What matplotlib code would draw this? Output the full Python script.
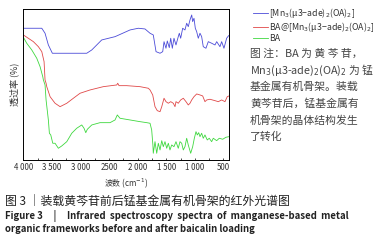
import matplotlib
matplotlib.use("Agg")
from matplotlib import pyplot as plt
from matplotlib.ticker import MultipleLocator

plt.rcParams['font.family'] = ['Noto Sans CJK SC', 'DejaVu Sans']

# wavenumber (cm-1) / transmittance (arbitrary units)
wn_mof = [4000, 3678, 3621, 3563, 3493, 3301, 2892, 2804, 2630, 2397, 2357, 2135,
          1990, 1873, 1785, 1728, 1680, 1610, 1563, 1540, 1506, 1483, 1448, 1423,
          1395, 1366, 1331, 1291, 1273, 1249, 1214, 1174, 1144, 1116, 1086, 1056,
          1039, 1016, 993, 969, 941, 911, 882, 854, 807, 766, 707, 649, 619, 562,
          532, 492, 445, 410]
t_mof = [131.7, 131.7, 126.7, 115, 106.7, 106.7, 106.7, 110, 120, 123.3, 124.3, 130,
         131.7, 131, 126.7, 125, 108.3, 106.7, 108.3, 118.3, 111.7, 119, 112.3, 121.7,
         111.7, 121.7, 115, 123.3, 126.7, 121.7, 131.7, 130, 136.7, 133.3, 140, 145,
         138.3, 141.7, 131.7, 128.3, 121.7, 126.7, 123.3, 113.3, 111.7, 118.3, 116.7, 115, 118.3, 113.3,
         118.3, 111.7, 121.7, 124.3]

wn_ba_mof = [4000, 3825, 3738, 3678, 3638, 3621, 3603, 3591, 3533, 3446, 3358, 3241,
             3126, 3009, 2834, 2602, 2367, 2350, 2327, 2193, 1960, 1815, 1785, 1738,
             1698, 1658, 1610, 1580, 1540, 1506, 1465, 1423, 1378, 1348, 1331, 1291,
             1249, 1203, 1156, 1116, 1086, 1056, 1016, 969, 911, 864, 824, 794, 737,
             649, 591, 532, 474, 434, 404]
t_ba_mof = [125, 118.3, 113.3, 108.3, 98.3, 80, 76.7, 73.3, 63.3, 56.7, 53.3, 56.7,
            61.7, 66.7, 70, 73.3, 75, 76.7, 74.3, 74.3, 73.3, 71.7, 70, 65,
            53.3, 49.3, 48.3, 53.3, 61.7, 58.3, 56.7, 58.3, 56.7, 53.3, 58.3, 56.7,
            60, 61.7, 58.3, 55, 56.7, 60, 63.3, 66, 65, 64, 58.3, 60, 60.7,
            59.3, 58.3, 60, 58.3, 63.3, 64]

wn_ba = [4000, 3941, 3853, 3766, 3708, 3661, 3650, 3621, 3603, 3563, 3545, 3521,
         3486, 3446, 3388, 3329, 3241, 3154, 3067, 2979, 2939, 2909, 2881, 2804,
         2659, 2484, 2397, 2357, 2310, 2135, 1960, 1843, 1785, 1756, 1735, 1728,
         1698, 1668, 1640, 1610, 1580, 1553, 1523, 1493, 1465, 1436, 1406, 1366,
         1331, 1291, 1261, 1231, 1203, 1174, 1144, 1116, 1074, 1039, 1010, 981,
         958, 934, 911, 882, 854, 824, 784, 749, 707, 679, 619, 574, 514, 457, 404]
t_ba = [122.7, 116.7, 110, 101.7, 93.3, 83.3, 80, 75, 60, 40, 26.7, 25,
        16.7, 16.7, 11.7, 14, 18.3, 26.7, 31.7, 35, 31.7, 27.3, 30.7, 35,
        37.3, 37.3, 40, 45, 41.7, 40, 38.3, 37.3, 36.7, 30, 15, 6.7,
        18.3, 6.7, 16.7, 10, 19.3, 13.3, 18.3, 11.7, 16.7, 10, 15, 13.3,
        18.3, 11.7, 18.3, 16.7, 10, 13.3, 21.7, 15, 6.7, 13.3, 21.7, 28.3,
        25, 27.3, 23.3, 26.7, 21.7, 25, 20, 21.7, 18.3, 21.7, 19.3, 21.7, 20.7, 22.7, 23.3]

labels = ['[Mn$_3$(μ3−ade)$_2$(OA)$_2$]', 'BA@[Mn$_3$(μ3−ade)$_2$(OA)$_2$]', 'BA']
colors = ['#4b4bd8', '#e04848', '#3fd83f']
xticks = [4000, 3500, 3000, 2500, 2000, 1500, 1000, 500]
xticklabels = ['4 000', '3 500', '3 000', '2500', '2 000', '1 500', '1 000', '500']

fig = plt.figure(figsize=(3.77, 2.42), dpi=100)
ax = fig.add_axes([0.062, 0.339, 0.546, 0.624])

for x, y, c, lab in zip([wn_mof, wn_ba_mof, wn_ba], [t_mof, t_ba_mof, t_ba], colors, labels):
    ax.plot(x, y, color=c, lw=0.6, label=lab)

ax.set_xlim(4000, 400)
ax.set_ylim(0, 151)
ax.set_yticks([])
ax.set_xticks(xticks)
ax.set_xticklabels(xticklabels, fontsize=5.7, color='#333333')
ax.xaxis.set_minor_locator(MultipleLocator(250))
ax.tick_params(axis='x', which='both', direction='in', length=1.5, width=0.5, pad=2)
for s in ax.spines.values():
    s.set_linewidth(0.7)
ax.set_xlabel('波数 (cm$^{-1}$)', fontsize=5.7, labelpad=3, color='#333333')
ax.set_ylabel('透过率 (%)', fontsize=6.5, labelpad=3, color='#333333')

leg = ax.legend(loc='upper left', bbox_to_anchor=(1.10, 1.04), fontsize=6.3, frameon=False,
                handlelength=1.7, handletextpad=0.1, labelspacing=0.0, borderaxespad=0)
for t in leg.get_texts():
    t.set_color('#333333')

note = ['图 注：BA 为 黄 芩 苷，', 'Mn$_3$(μ3-ade)$_2$(OA)$_2$ 为 锰',
        '基金属有机骨架。装载', '黄芩苷后，锰基金属有', '机骨架的晶体结构发生', '了转化']
for i, line in enumerate(note):
    fig.text(250 / 377, 1 - (54 + i * 16.6) / 242, line, fontsize=7.8, color='#444444',
             va='center', ha='left')

fig.text(5 / 377, 1 - 201.7 / 242, '图 3 ｜装载黄芩苷前后锰基金属有机骨架的红外光谱图',
         fontsize=8.6, va='center', ha='left', color='#222222')
fig.text(5 / 377, 1 - 216 / 242,
         'Figure 3     |     Infrared  spectroscopy  spectra  of  manganese-based  metal',
         fontsize=6.9, fontweight='bold', va='center', ha='left', color='#222222')
fig.text(5 / 377, 1 - 229.5 / 242, 'organic frameworks before and after baicalin loading',
         fontsize=6.9, fontweight='bold', va='center', ha='left', color='#222222')

plt.savefig('out.png', dpi=100)
